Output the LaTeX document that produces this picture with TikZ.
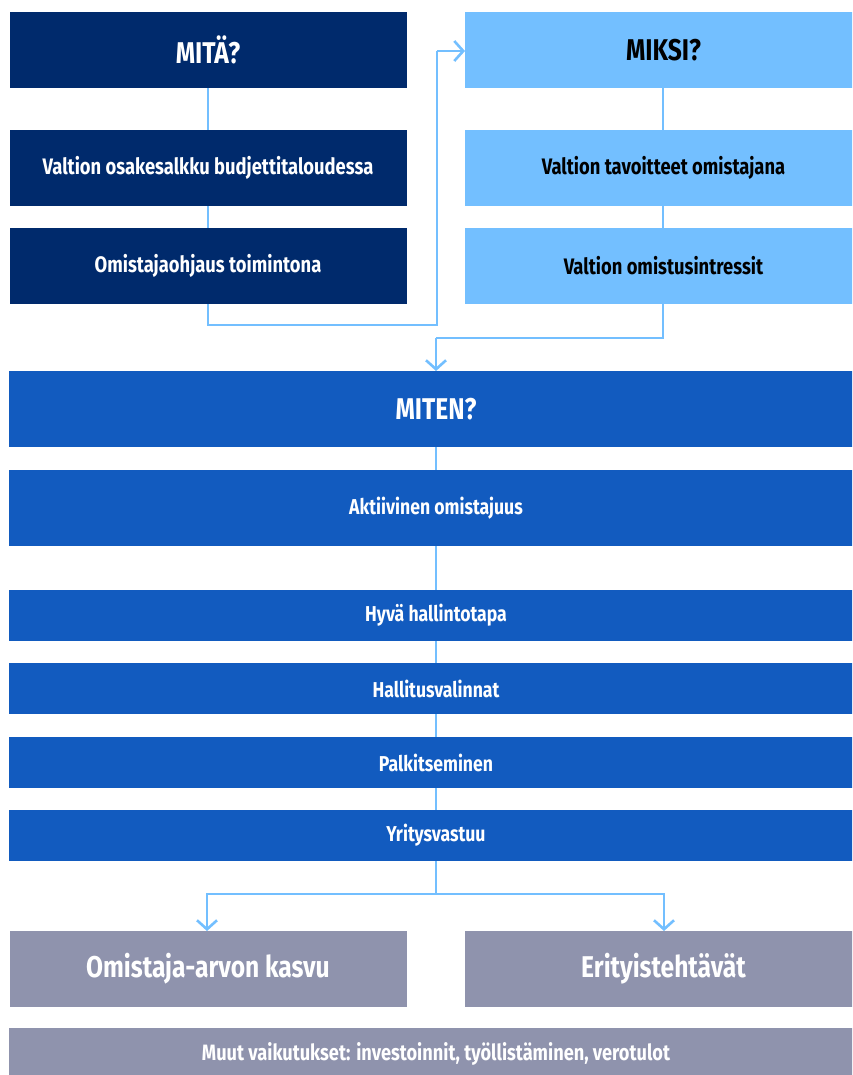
\documentclass[tikz,border=0pt]{standalone}
\usepackage{fontspec}
\setmainfont{Fira Sans}[UprightFont={* Bold},BoldFont={* Bold},FakeStretch=0.82]
\usetikzlibrary{arrows.meta,backgrounds}
\definecolor{navy}{HTML}{002A6C}
\definecolor{lightblue}{HTML}{73BFFF}
\definecolor{midblue}{HTML}{125BBF}
\definecolor{greyblue}{HTML}{8F93AD}
\definecolor{linecol}{HTML}{73BFFF}
\tikzset{
  box/.style={rectangle, inner sep=0pt, outer sep=0pt, text=white, align=center},
  navybox/.style={box, fill=navy},
  lightbox/.style={box, fill=lightblue, text=black},
  midbox/.style={box, fill=midblue},
  greybox/.style={box, fill=greyblue},
  halfw/.style={minimum width=397pt},
  fullw/.style={minimum width=854pt},
  tall/.style={minimum height=76pt},
  short/.style={minimum height=51pt},
  titlefont/.style={font=\fontsize{30}{34}\selectfont},
  subfont/.style={font=\fontsize{22.4}{26}\selectfont},
  midfont/.style={font=\fontsize{21.5}{25}\selectfont},
  smallfont/.style={font=\fontsize{21.5}{25}\selectfont},
  conn/.style={draw=linecol, line width=2.6pt},
  arr/.style={conn, -{Straight Barb[length=9pt,width=20pt,line width=2.6pt]}}
}
\begin{document}
\begin{tikzpicture}[x=1pt,y=-1pt]
\useasboundingbox (0,0) rectangle (852,1075);
\clip (0,0) rectangle (852,1075);
% left column
\node[navybox,halfw,tall,titlefont] (mita) at (208,50) {MITÄ?};
\node[navybox,halfw,tall,subfont] (osake) at (208,168) {Valtion osakesalkku budjettitaloudessa};
\node[navybox,halfw,tall,subfont] (ohjaus) at (208,266) {Omistajaohjaus toimintona};
% right column
\node[lightbox,halfw,tall,titlefont] (miksi) at (663.5,50) {MIKSI?};
\node[lightbox,halfw,tall,subfont] (tavoit) at (663.5,168) {Valtion tavoitteet omistajana};
\node[lightbox,halfw,tall,subfont] (intr) at (663.5,266) {Valtion omistusintressit};
% miten
\node[midbox,fullw,tall,titlefont] (miten) at (436,409) {MITEN?};
\node[midbox,fullw,tall,midfont] (aktiiv) at (436,508) {Aktiivinen omistajuus};
\node[midbox,fullw,short,smallfont] (hyva) at (436,615.5) {Hyvä hallintotapa};
\node[midbox,fullw,short,smallfont] (hall) at (436,688.5) {Hallitusvalinnat};
\node[midbox,fullw,short,smallfont] (palk) at (436,762.5) {Palkitseminen};
\node[midbox,fullw,short,smallfont] (yrit) at (436,835.5) {Yritysvastuu};
% outcomes
\node[greybox,halfw,tall,titlefont] (arvo) at (208,969) {Omistaja-arvon kasvu};
\node[greybox,halfw,tall,titlefont] (erit) at (663.5,969) {Erityistehtävät};
\node[greybox,fullw,minimum height=52pt,font=\fontsize{22.2}{26}\selectfont] (muut) at (436,1054) {Muut vaikutukset: investoinnit, työllistäminen, verotulot};
% connectors
\coordinate (a1) at (208,325);
\coordinate (a2) at (437,325);
\coordinate (a3) at (437,51);
\coordinate (b1) at (663,338);
\coordinate (b2) at (436,338);
\coordinate (c1) at (436,894);
\coordinate (c2) at (207,894);
\coordinate (c3) at (664,894);
\begin{scope}[on background layer]
\draw[conn] (mita.south -| a1) -- (a1) -- (a2) -- (a3);
\draw[arr] (a3) -- (miksi.west |- a3);
\draw[conn] (miksi.south -| b1) -- (b1) -- (b2);
\draw[arr] (b2) -- (miten.north -| b2);
\draw[conn] (miten.south -| c1) -- (c1);
\draw[arr] (c1) -- (c2) -- (arvo.north -| c2);
\draw[arr] (c1) -- (c3) -- (erit.north -| c3);
\end{scope}
\end{tikzpicture}
\end{document}
